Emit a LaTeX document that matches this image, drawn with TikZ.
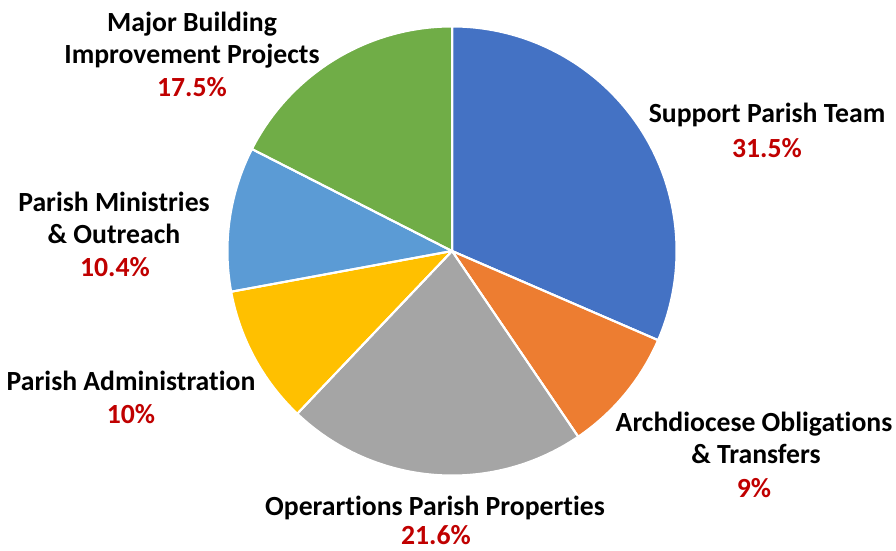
\documentclass[tikz,border=0pt]{standalone}
\usepackage{fontspec}
\setmainfont{Carlito}[RawFeature={-liga;-clig;-dlig;-calt}]
\definecolor{cblue}{HTML}{4472C4}
\definecolor{corange}{HTML}{ED7D31}
\definecolor{cgray}{HTML}{A5A5A5}
\definecolor{cyellow}{HTML}{FFC000}
\definecolor{clblue}{HTML}{5B9BD5}
\definecolor{cgreen}{HTML}{70AD47}
\definecolor{cred}{HTML}{C00000}
\begin{document}
\begin{tikzpicture}[x=1pt,y=1pt,
  slice/.style={draw=white,line width=2pt,line join=round},
  lbl/.style={anchor=base,inner sep=0pt,font=\fontsize{27.7}{33}\selectfont\bfseries,text=black},
  pct/.style={lbl,text=cred}]
\useasboundingbox (0,0) rectangle (896,550);
\coordinate (c) at (452,299);
\def\R{224.5}
\fill[slice,fill=cblue]   (c) -- ++(90:\R) arc[start angle=90,end angle=-23.4,radius=\R] -- cycle;
\fill[slice,fill=corange] (c) -- ++(-23.4:\R) arc[start angle=-23.4,end angle=-55.8,radius=\R] -- cycle;
\fill[slice,fill=cgray]   (c) -- ++(-55.8:\R) arc[start angle=-55.8,end angle=-133.56,radius=\R] -- cycle;
\fill[slice,fill=cyellow] (c) -- ++(-133.56:\R) arc[start angle=-133.56,end angle=-169.56,radius=\R] -- cycle;
\fill[slice,fill=clblue]  (c) -- ++(-169.56:\R) arc[start angle=-169.56,end angle=-207,radius=\R] -- cycle;
\fill[slice,fill=cgreen]  (c) -- ++(-207:\R) arc[start angle=-207,end angle=-270,radius=\R] -- cycle;
\draw[slice] (c) -- ++(90:\R) (c) -- ++(-23.4:\R) (c) -- ++(-55.8:\R) (c) -- ++(-133.56:\R) (c) -- ++(-169.56:\R) (c) -- ++(-207:\R);
% labels
\node[lbl] (mb1) at (192,518) {Major Building};
\node[lbl] (mb2) at (192,486) {Improvement Projects};
\node[pct] (mb3) at (192,453) {17.5\%};
\node[lbl] (sp1) at (767,427) {Support Parish Team};
\node[pct] (sp2) at (767,392) {31.5\%};
\node[lbl] (pm1) at (114,338.5) {Parish Ministries};
\node[lbl] (pm2) at (114,306.5) {\& Outreach};
\node[pct] (pm3) at (115,274) {10.4\%};
\node[lbl] (pa1) at (131,160) {Parish Administration};
\node[pct] (pa2) at (131,127) {10\%};
\node[lbl] (ao1) at (754,118.5) {Archdiocese Obligations};
\node[lbl] (ao2) at (756,87) {\& Transfers};
\node[pct] (ao3) at (754,53) {9\%};
\node[lbl] (op1) at (435,35) {Operartions Parish Properties};
\node[pct] (op2) at (436,6) {21.6\%};
\end{tikzpicture}
\end{document}
